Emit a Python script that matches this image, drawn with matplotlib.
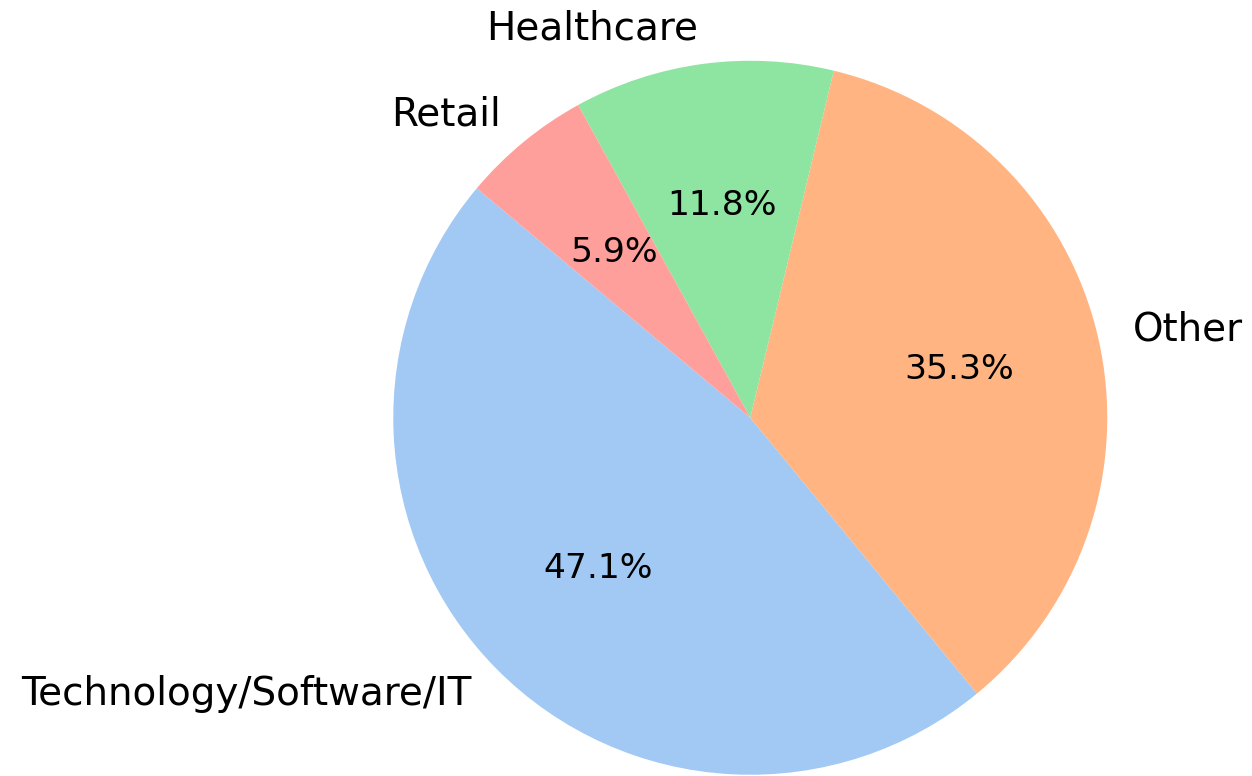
import matplotlib.pyplot as plt
import seaborn as sns

# Industry breakdown
labels = ["Technology/Software/IT", "Other", "Healthcare", "Retail"]
counts = [8, 6, 2, 1]

colors = sns.color_palette("pastel")[:len(labels)]

fig = plt.figure(figsize=(12.52, 7.76), dpi=100)
ax = fig.add_axes([0.2428, -0.1134, 0.7129, 1.1501])

wedges, texts, autotexts = ax.pie(counts, labels=labels, colors=colors,
                                  autopct="%1.1f%%", startangle=140)
for t in texts:
    t.set_fontsize(28)
for t in autotexts:
    t.set_fontsize(24.8)
ax.set_xlim(-1.25, 1.25)
ax.set_ylim(-1.25, 1.25)
ax.set_aspect("equal")

fig.savefig("out.png", dpi=100)
